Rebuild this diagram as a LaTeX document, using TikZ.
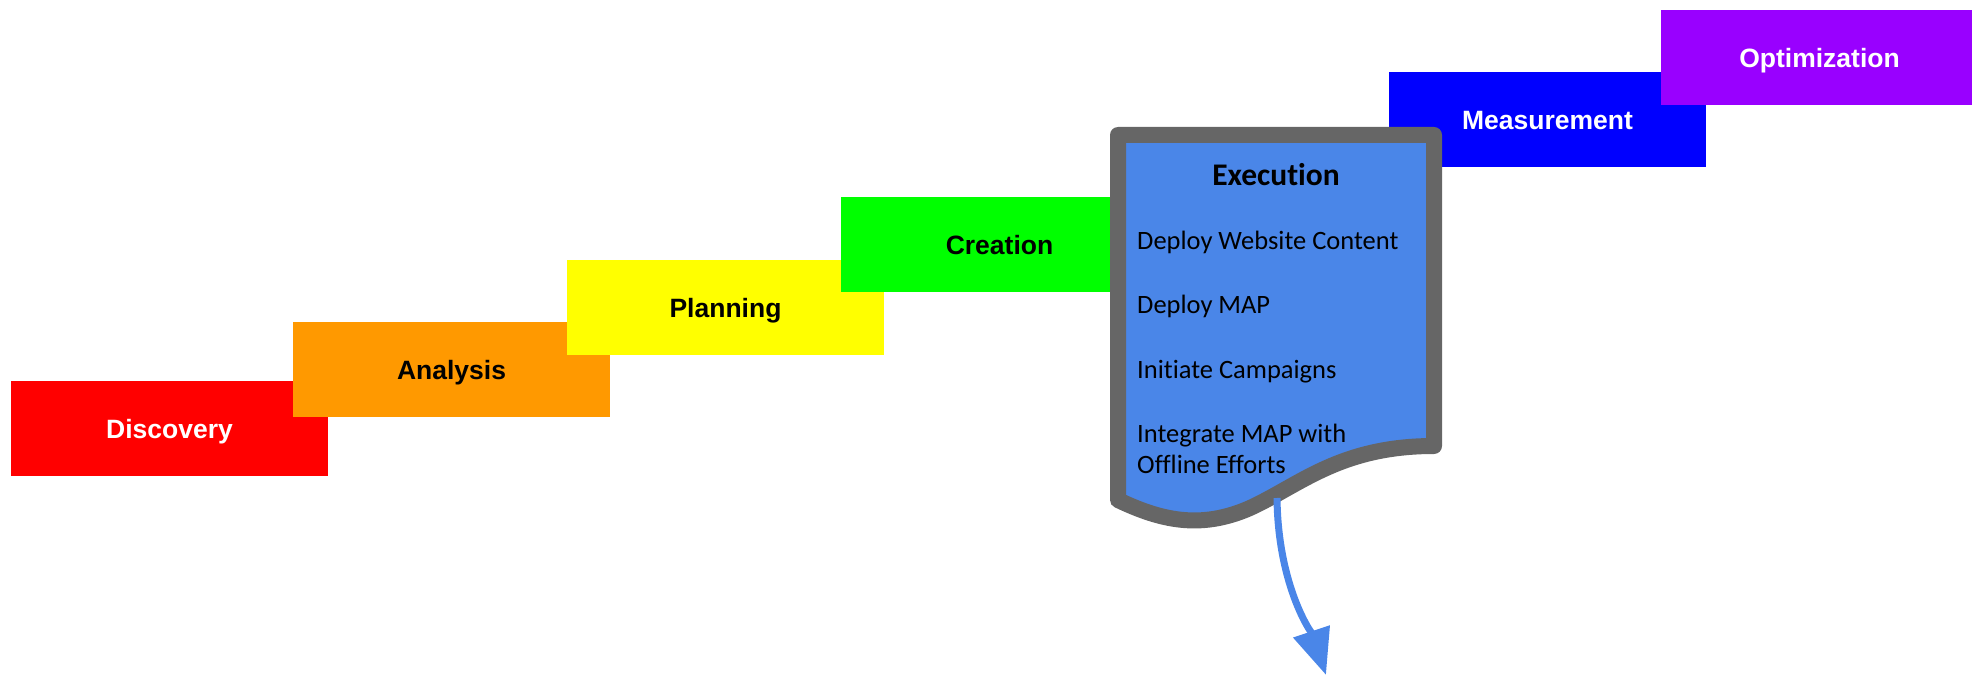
\documentclass[tikz,border=0pt]{standalone}
\usepackage{fontspec}
\setmainfont{Liberation Sans}
\newfontfamily\docfont[Ligatures=NoCommon]{Carlito}
\usetikzlibrary{arrows.meta}
\definecolor{stagered}{HTML}{FF0000}
\definecolor{stageorange}{HTML}{FF9900}
\definecolor{stageyellow}{HTML}{FFFF00}
\definecolor{stagegreen}{HTML}{00FF00}
\definecolor{stageblue}{HTML}{0000FF}
\definecolor{stagepurple}{HTML}{9900FF}
\definecolor{docblue}{HTML}{4A86E8}
\definecolor{docgray}{HTML}{666666}
\tikzset{
	stage/.style={minimum width=317pt,minimum height=95pt,inner sep=0pt,text height=26pt,text depth=6pt,
		font=\fontsize{26.5}{32}\selectfont\bfseries},
	item/.style={anchor=base west,inner sep=0pt,font=\docfont\fontsize{26.5}{32}\selectfont}
}
\begin{document}
\begin{tikzpicture}[x=1pt,y=-1pt,> = {Triangle[length=46pt,width=37pt]}]
	\useasboundingbox (0,0) rectangle (1972,676);
	\node[stage,fill=stagered,text=white] (discovery) at (169.5,428.5) {Discovery};
	\node[stage,fill=stageorange] (analysis) at (451.5,369.5) {Analysis};
	\node[stage,fill=stageyellow] (planning) at (725.5,307.5) {Planning};
	\node[stage,fill=stagegreen] (creation) at (999.5,244.5) {Creation};
	\node[stage,fill=stageblue,text=white] (measurement) at (1547.5,119.5) {Measurement};
	\node[stage,fill=stagepurple,text=white] (optimization) at (1819.5,57.5) {Optimization};
	%%%%%%%%
	\draw[line width=16pt,line join=round,draw=docgray,fill=docblue] (1118,135)--(1434,135)--(1434,446)
		.. controls (1340,446) and (1300,485) .. (1250,508)
		.. controls (1200,530) and (1160,520) .. (1118,500)--cycle;
	\node[anchor=base,inner sep=0pt,font=\docfont\fontsize{31.5}{36}\selectfont\bfseries] (execution) at (1276,185.5) {Execution};
	\node[item] (website) at (1137,249.5) {Deploy Website Content};
	\node[item] (map) at (1137,313.5) {Deploy MAP};
	\node[item] (campaigns) at (1137,378.5) {Initiate Campaigns};
	\node[item] (integrate) at (1137,442.5) {Integrate MAP with};
	\node[item] (offline) at (1137,473.5) {Offline Efforts};
	%%%%%%%%
	\coordinate (docfoot) at (1277,498);
	\coordinate (tip) at (1326,675);
	\draw[->,line width=7pt,docblue] (docfoot) .. controls (1278,588) and (1313,636) .. (tip);
\end{tikzpicture}
\end{document}
